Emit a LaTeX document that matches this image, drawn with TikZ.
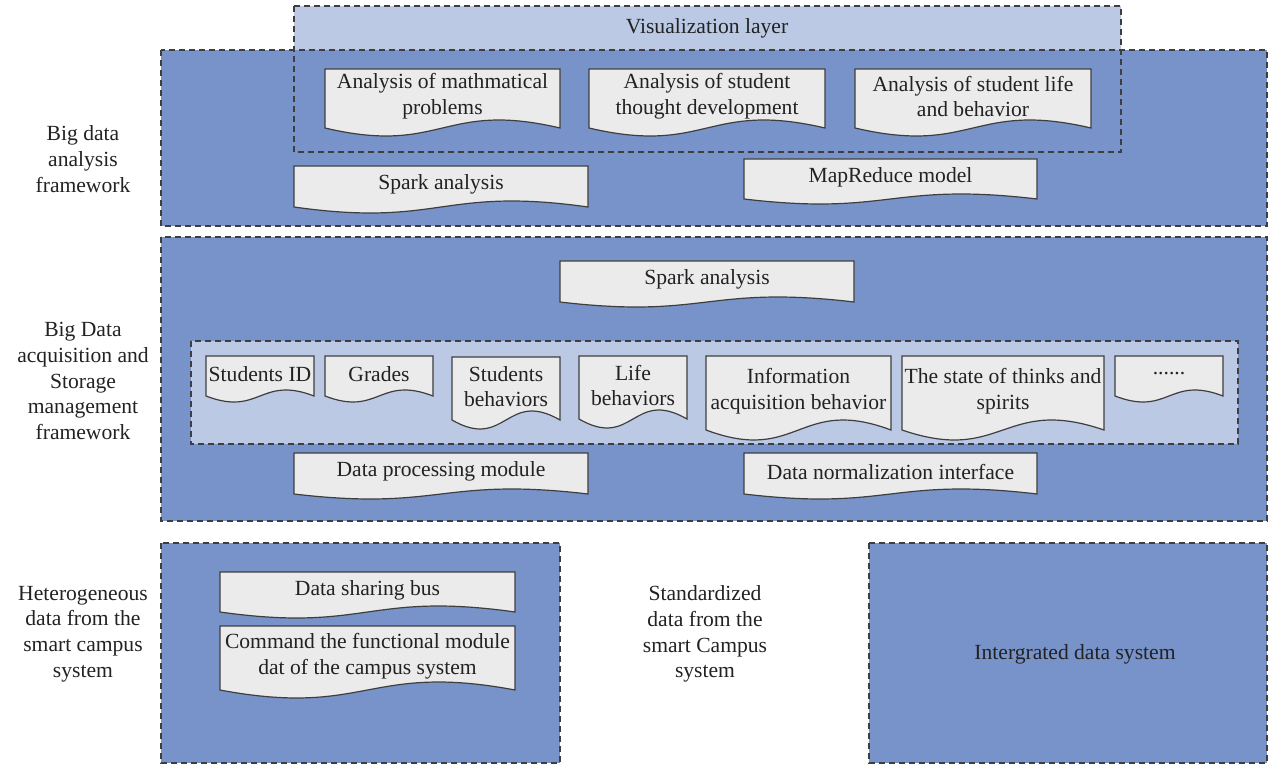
\documentclass[tikz,border=0pt]{standalone}
\usepackage{fontspec}
\setmainfont{Liberation Serif}
\usepackage{tikz}
\usetikzlibrary{calc}
\definecolor{frameblue}{HTML}{7893C9}
\definecolor{paleblue}{HTML}{BBC9E5}
\definecolor{sheetgray}{HTML}{EBEBEB}
\definecolor{edgegray}{HTML}{3E3E3E}
\definecolor{inkgray}{HTML}{222222}
\newcommand{\sheet}[7] % name, left, top, right, bottom of sides, wave in px, text
{
	% paper with wavy lower edge
	\draw[sheet] (#2,#3) -- (#4,#3) -- (#4,#5)
		.. controls ({(#2+#4)/2},{#5-3.46*#6}) and ({(#2+#4)/2},{#5+3.46*#6}) .. (#2,#5) -- cycle;
	% text of the sheet
	\node[sheettext] (#1) at ({(#2+#4)/2},{(#3+#5)/2-2}) {#7};
}

\begin{document}
\begin{tikzpicture}[x=0.5pt, y=-0.5pt,
	frame/.style={draw=edgegray, line width=0.7pt, dash pattern=on 3pt off 2pt},
	sheet/.style={draw=edgegray, fill=sheetgray, line width=0.6pt},
	sheettext/.style={inner sep=0pt, align=center, text=inkgray, font=\fontsize{10.8}{12.85}\selectfont},
	caption/.style={inner sep=0pt, align=center, text=inkgray, font=\fontsize{10.8}{12.85}\selectfont}]
	% 1271 x 765 px, one unit = one px
	\useasboundingbox (0,0) rectangle (1271,765);

	% visualization layer under the analysis frame
	\fill[paleblue] (294,6) rectangle (1121,152);
	\fill[frameblue] (161,50) rectangle (1267,226);
	\draw[frame] (161,50) rectangle (1267,226);
	\draw[frame] (294,6) rectangle (1121,152);
	\node[caption] (vis) at (707,28) {Visualization layer};

	\sheet{anamath}{325}{69}{560}{128}{8}{Analysis of mathmatical\\problems};
	\sheet{anathought}{589}{69}{825}{128}{8}{Analysis of student\\thought development};
	\sheet{analife}{855}{69}{1091}{128}{8}{Analysis of student life\\and behavior};
	\sheet{sparktop}{294}{166}{588}{207}{6}{Spark analysis};
	\sheet{mapreduce}{744}{159}{1037}{199}{5}{MapReduce model};

	% acquisition and storage frame
	\fill[frameblue] (161,237) rectangle (1267,521);
	\draw[frame] (161,237) rectangle (1267,521);
	\sheet{sparkmid}{560}{261}{854}{302}{5}{Spark analysis};
	\fill[paleblue] (191,341) rectangle (1238,444);
	\draw[frame] (191,341) rectangle (1238,444);

	\sheet{studid}{206}{356}{314}{396}{6}{Students ID};
	\sheet{grades}{325}{356}{433}{396}{6}{Grades};
	\sheet{studbeh}{452}{357}{560}{420}{9}{Students\\behaviors};
	\sheet{lifebeh}{579}{356}{687}{419}{9}{Life\\behaviors};
	\sheet{infobeh}{706}{356}{891}{430}{10}{Information\\acquisition behavior};
	\sheet{spirits}{902}{356}{1104}{430}{10}{The state of thinks and\\spirits};
	\sheet{more}{1115}{356}{1223}{396}{6}{......};

	\sheet{processing}{294}{453}{588}{494}{5}{Data processing module};
	\sheet{normalize}{744}{453}{1037}{494}{5}{Data normalization interface};

	% campus systems
	\fill[frameblue] (161,543) rectangle (560,763);
	\draw[frame] (161,543) rectangle (560,763);
	\sheet{bus}{220}{572}{515}{612}{6}{Data sharing bus};
	\sheet{command}{220}{626}{515}{690}{8}{Command the functional module\\dat of the campus system};

	\fill[frameblue] (869,543) rectangle (1267,763);
	\draw[frame] (869,543) rectangle (1267,763);
	\node[caption] (integrated) at (1075,654) {Intergrated data system};

	% side captions
	\node[caption] (analysislab) at (83,159) {Big data\\analysis\\framework};
	\node[caption] (storagelab) at (83,381) {Big Data\\acquisition and\\Storage\\management\\framework};
	\node[caption] (heterolab) at (83,634) {Heterogeneous\\data from the\\smart campus\\system};
	\node[caption] (standardlab) at (705,634) {Standardized\\data from the\\smart Campus\\system};
\end{tikzpicture}
\end{document}
